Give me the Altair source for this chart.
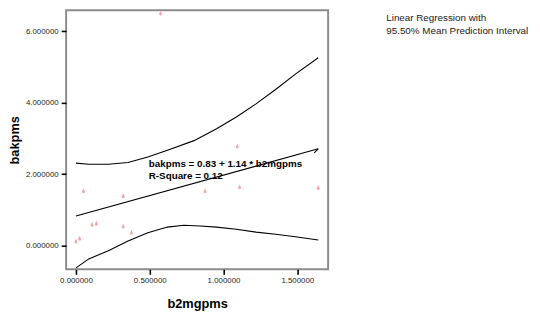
import altair as alt
import pandas as pd

# Scatter points (b2mgpms, bakpms)
pt_x = [0.573, 0.051, 0.32, 0.109, 0.138, 0.32, 0.376, 0.0, 0.025, 0.875, 1.109, 1.642, 1.093]
pt_y = [6.5, 1.53, 1.39, 0.59, 0.62, 0.54, 0.37, 0.12, 0.2, 1.53, 1.64, 1.62, 2.78]

# Fitted regression line endpoints
fit_x = [0.0, 1.642]
fit_y = [0.83, 2.71]

# Arrow hook at the end of the fit line
hook_x = [1.642, 1.615]
hook_y = [2.71, 2.60]

# Upper mean prediction interval
up_x = [0.0, 0.087, 0.22, 0.353, 0.487, 0.62, 0.80, 0.953, 1.087, 1.22, 1.353, 1.487, 1.642]
up_y = [2.31, 2.28, 2.28, 2.33, 2.48, 2.67, 2.94, 3.27, 3.60, 3.97, 4.37, 4.80, 5.26]

# Lower mean prediction interval
lo_x = [0.0, 0.087, 0.22, 0.353, 0.487, 0.62, 0.731, 0.842, 0.953, 1.087, 1.22, 1.353, 1.487, 1.642]
lo_y = [-0.62, -0.37, -0.14, 0.13, 0.36, 0.52, 0.57, 0.55, 0.52, 0.46, 0.38, 0.32, 0.25, 0.16]

ann_text = ["bakpms = 0.83 + 1.14 * b2mgpms", "R-Square = 0.12"]
ann_x = [0.493, 0.493]
ann_y = [2.28, 1.96]

legend_lines = ["Linear Regression with", "95.50% Mean Prediction Interval"]

x_ticks = [0.0, 0.5, 1.0, 1.5]
y_ticks = [0.0, 2.0, 4.0, 6.0]

FONT = "Liberation Sans"

xs = alt.Scale(domain=[-0.0668, 1.7089], nice=False, zero=False)
ys = alt.Scale(domain=[-0.662, 6.588], nice=False, zero=False)

x_axis = alt.Axis(values=x_ticks, format=".6f", title="b2mgpms", titleY=39,
                  titleBaseline="alphabetic", labelPadding=2)
y_axis = alt.Axis(values=y_ticks, format=".6f", title="bakpms", titleX=-48,
                  titleAngle=270, titleBaseline="alphabetic", labelPadding=3)

pts_df = pd.DataFrame({"x": pt_x, "y": pt_y})
points = alt.Chart(pts_df).mark_point(
    shape="M0,-1 L0.55,0.25 A0.55,0.55 0 1,1 -0.55,0.25 Z",
    filled=True, size=30, color="#f4a3a8", opacity=1
).encode(
    x=alt.X("x:Q", scale=xs, axis=x_axis),
    y=alt.Y("y:Q", scale=ys, axis=y_axis),
)

def line_layer(xv, yv):
    df = pd.DataFrame({"x": xv, "y": yv, "o": list(range(len(xv)))})
    return alt.Chart(df).mark_line(color="black", strokeWidth=1.1).encode(
        x=alt.X("x:Q", scale=xs),
        y=alt.Y("y:Q", scale=ys),
        order="o:O",
    )

fit = line_layer(fit_x, fit_y)
hook = line_layer(hook_x, hook_y)
upper = line_layer(up_x, up_y)
lower = line_layer(lo_x, lo_y)

ann_df = pd.DataFrame({"x": ann_x, "y": ann_y, "t": ann_text})
ann = alt.Chart(ann_df).mark_text(
    align="left", baseline="middle", font=FONT, fontSize=10, fontWeight="bold", color="black"
).encode(
    x=alt.X("x:Q", scale=xs),
    y=alt.Y("y:Q", scale=ys),
    text="t:N",
)

def legend_line(txt, ypix):
    return alt.Chart(pd.DataFrame({"a": [0]})).mark_text(
        text=txt, align="left", baseline="middle", font=FONT, fontSize=10,
        color="#222222"
    ).encode(x=alt.value(325), y=alt.value(ypix))

leg1 = legend_line(legend_lines[0], 8)
leg2 = legend_line(legend_lines[1], 21.5)

chart = alt.layer(points, upper, lower, fit, hook, ann, leg1, leg2).properties(
    width=266,
    height=263,
    autosize=alt.AutoSizeParams(type="none"),
    padding={"left": 59, "top": 0, "right": 207, "bottom": 41},
).configure_view(
    stroke="#8c8c8c", strokeWidth=2
).configure_axis(
    domain=False, grid=False, tickColor="black", tickWidth=1.6, tickSize=5,
    labelFont=FONT, labelFontSize=8, labelColor="#222222",
    titleFont=FONT, titleFontSize=13, titleFontWeight="bold", titleColor="black",
)

chart.save("out.html", embed_options={"renderer": "svg", "actions": False})
